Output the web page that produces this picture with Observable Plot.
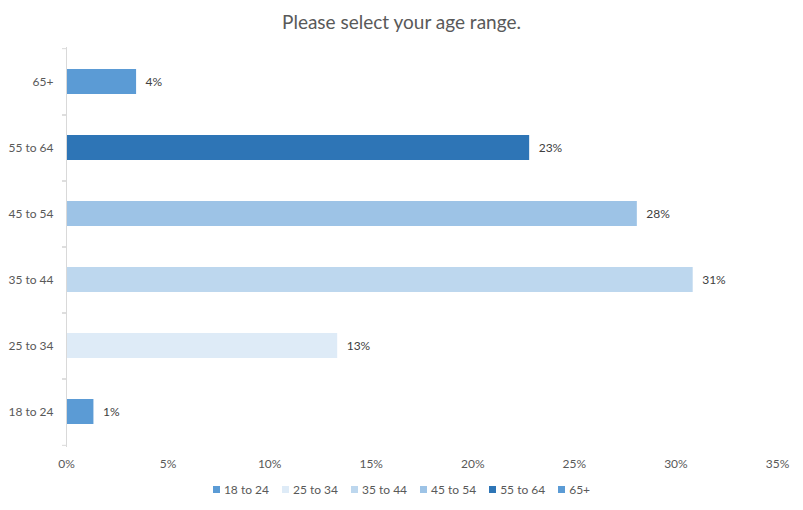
<!DOCTYPE html>
<html>
<head>
<meta charset="utf-8">
<script src="https://cdn.jsdelivr.net/npm/d3@7"></script>
<script src="https://cdn.jsdelivr.net/npm/@observablehq/plot@0.6"></script>
<style>
  body { margin: 0; background: #fff; font-family: Lato, "Open Sans", sans-serif; }
  #wrap { width: 803px; height: 510px; position: relative; }
  #title { height: 40px; padding-top: 10px; box-sizing: border-box; line-height: 24px; text-align: center; font-size: 19px; color: #595959; }
  #legend { position: absolute; top: 482px; left: 0; width: 803px; display: flex; justify-content: center; font-size: 12px; color: #595959; }
  .item { display: flex; align-items: center; margin: 0 6.5px; }
  .sw { width: 7px; height: 7px; margin-right: 4px; }
</style>
</head>
<body>
<div id="wrap">
  <div id="title">Please select your age range.</div>
  <div id="chart"></div>
  <div id="legend"></div>
</div>
<script>
const categories = ["18 to 24", "25 to 34", "35 to 44", "45 to 54", "55 to 64", "65+"];
const values = [1.35, 13.35, 30.85, 28.1, 22.8, 3.45];
const labels = ["1%", "13%", "31%", "28%", "23%", "4%"];
const colors = ["#5B9BD5", "#DEEBF7", "#BDD7EE", "#9DC3E6", "#2E75B6", "#5B9BD5"];
const xTicks = [0, 5, 10, 15, 20, 25, 30, 35];

const data = categories.map((c, i) => ({cat: c, value: values[i], label: labels[i]}));

const H = 440, mT = 7, mB = 33;
const step = (H - mT - mB) / categories.length;

const plot = Plot.plot({
  width: 803,
  height: H,
  marginTop: mT,
  marginBottom: mB,
  marginLeft: 66,
  marginRight: 26,
  style: { fontFamily: "Lato, 'Open Sans', sans-serif", fontSize: "12px", color: "#595959" },
  x: { domain: [0, 35], ticks: xTicks, tickFormat: d => d + "%" },
  y: { domain: categories.slice().reverse(), paddingInner: 0.62, paddingOuter: 0.31, label: null },
  color: { domain: categories, range: colors },
  marks: [
    Plot.barX(data, { x: "value", y: "cat", fill: "cat" }),
    Plot.text(data, { x: "value", y: "cat", text: "label", textAnchor: "start", dx: 9, fill: "#404040", fontSize: 12 }),
    Plot.ruleX([0], { stroke: "#d9d9d9" }),
    Plot.axisX({ ticks: xTicks, tickSize: 0, tickPadding: 12, label: null, tickFormat: d => d + "%", fill: "#595959" }),
    Plot.axisY({ tickSize: 0, tickPadding: 13, label: null, fill: "#595959" }),
    Plot.axisY({ tickSize: 4, text: null, label: null, dy: -step / 2, stroke: "#d9d9d9" }),
    Plot.axisY({ tickSize: 4, text: null, label: null, dy: step / 2, stroke: "#d9d9d9" })
  ]
});
document.getElementById("chart").appendChild(plot);

const legend = document.getElementById("legend");
categories.forEach((c, i) => {
  const it = document.createElement("div");
  it.className = "item";
  it.innerHTML = `<span class="sw" style="background:${colors[i]}"></span><span>${c}</span>`;
  legend.appendChild(it);
});
</script>
</body>
</html>
